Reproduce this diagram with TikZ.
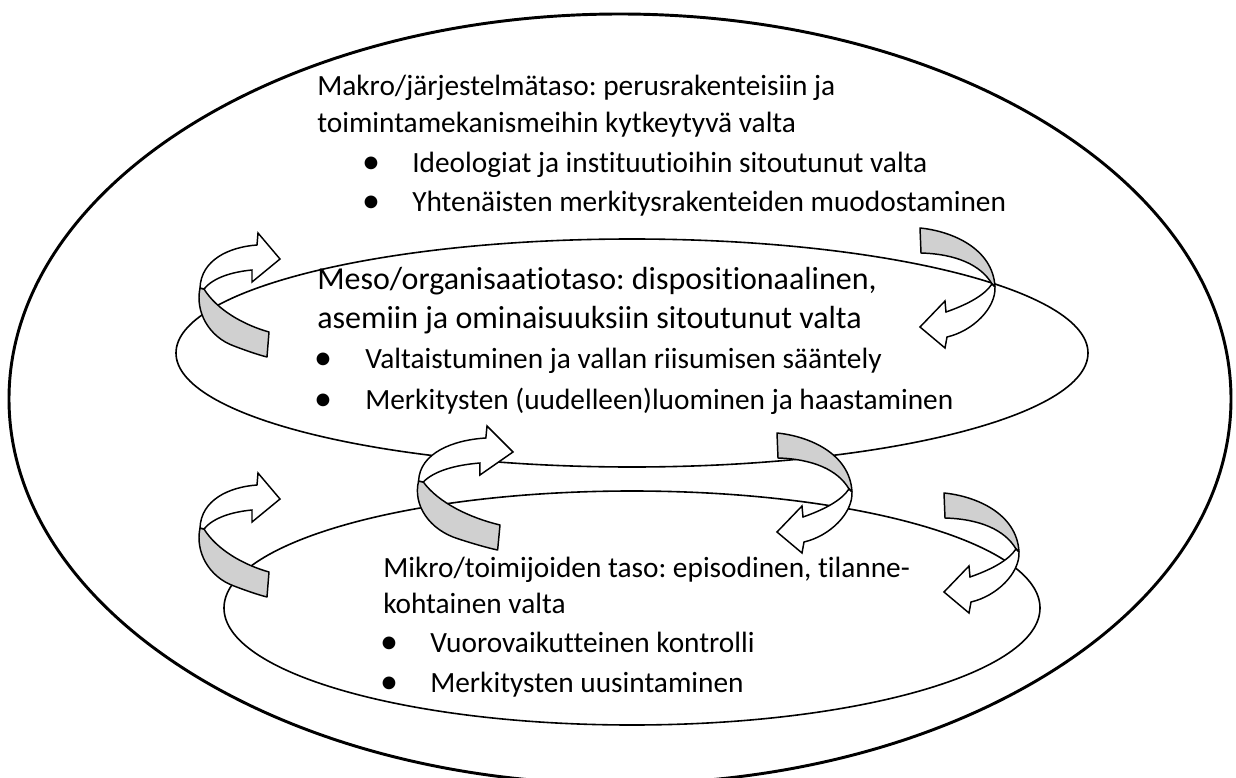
\documentclass[tikz,border=0pt]{standalone}
\usepackage{fontspec}
\setmainfont{Carlito}[Ligatures={NoCommon}]
\frenchspacing
\usetikzlibrary{positioning}

\definecolor{ribbon}{RGB}{208,208,208}

\tikzset{
  band/.style={draw=black, line width=1.1pt, line join=round, fill=ribbon},
  flap/.style={draw=black, line width=1.1pt, line join=miter, fill=white},
  % ribbon arrow turning up and pointing right
  upturn/.pic={
    \path[band] (-69,-44) .. controls (-74,-20) and (-60,5) .. (-35,14)
       .. controls (-22,19) and (-10,23) .. (-2,25) -- (0,0)
       .. controls (-25,-7) and (-52,-22) .. (-65,-43) -- cycle;
    \path[flap] (-69,-44) .. controls (-68,-72) and (-40,-85) .. (-12,-87)
       -- (-11,-99) -- (11,-73) -- (-17,-50) -- (-17,-62)
       .. controls (-38,-60) and (-56,-54) .. (-65,-43) -- cycle;
  },
  % ribbon arrow turning down and pointing left
  downturn/.pic={
    \path[band] (0,0) -- (-1,-25) .. controls (30,-22) and (72,-5) .. (74,34)
       -- (71,31) .. controls (60,12) and (35,1) .. (0,0) -- cycle;
    \path[flap] (74,34) .. controls (75,55) and (52,78) .. (26,84)
       -- (24,95) -- (-1,74) -- (24,48) -- (25,59)
       .. controls (45,52) and (63,43) .. (71,31) -- cycle;
  }
}

\begin{document}
\begin{tikzpicture}[x=0.75pt, y=-0.75pt,
    level/.style={draw=black, line width=1.2pt},
    txt/.style={anchor=base west, inner sep=0pt, font=\fontsize{22}{26}\selectfont},
    head/.style={txt, font=\fontsize{24}{29}\selectfont},
    dot/.style={anchor=base, inner sep=0pt, font=\fontsize{27}{31}\selectfont}]
  \useasboundingbox (0,0) rectangle (1236,778);

  % the three levels
  \draw[level, line width=2.2pt] (620,399) ellipse [x radius=611, y radius=385];
  \draw[level] (632,353) ellipse [x radius=456, y radius=114];
  \draw[level] (632,608) ellipse [x radius=408, y radius=117];

  % turning arrows between the levels
  \pic at (269,332) {upturn};
  \pic[xscale=1.18] at (500,525) {upturn};
  \pic at (269,572) {upturn};
  \pic at (921,253) {downturn};
  \pic at (778,458) {downturn};
  \pic at (945,518) {downturn};

  % makro
  \node[txt] (makro1) at (317,95) {Makro/järjestelmätaso: perusrakenteisiin ja};
  \node[txt] (makro2) at (317,132) {toimintamekanismeihin kytkeytyvä valta};
  \node[dot] (makrob1) at (371,173) {•};
  \node[txt] (makroi1) at (412,172) {Ideologiat ja instituutioihin sitoutunut valta};
  \node[dot] (makrob2) at (371,212) {•};
  \node[txt] (makroi2) at (412,211) {Yhtenäisten merkitysrakenteiden muodostaminen};

  % meso
  \node[head] (meso1) at (317,289) {Meso/organisaatiotaso: dispositionaalinen,};
  \node[head] (meso2) at (317,328) {asemiin ja ominaisuuksiin sitoutunut valta};
  \node[dot] (mesob1) at (323,369) {•};
  \node[txt] (mesoi1) at (365,368) {Valtaistuminen ja vallan riisumisen sääntely};
  \node[dot] (mesob2) at (323,410) {•};
  \node[txt] (mesoi2) at (365,409) {Merkitysten (uudelleen)luominen ja haastaminen};

  % mikro
  \node[txt] (mikro1) at (383,577) {Mikro/toimijoiden taso: episodinen, tilanne-};
  \node[txt] (mikro2) at (383,613) {kohtainen valta};
  \node[dot] (mikrob1) at (389,653) {•};
  \node[txt] (mikroi1) at (430,652) {Vuorovaikutteinen kontrolli};
  \node[dot] (mikrob2) at (389,693) {•};
  \node[txt] (mikroi2) at (430,692) {Merkitysten uusintaminen};
\end{tikzpicture}
\end{document}
